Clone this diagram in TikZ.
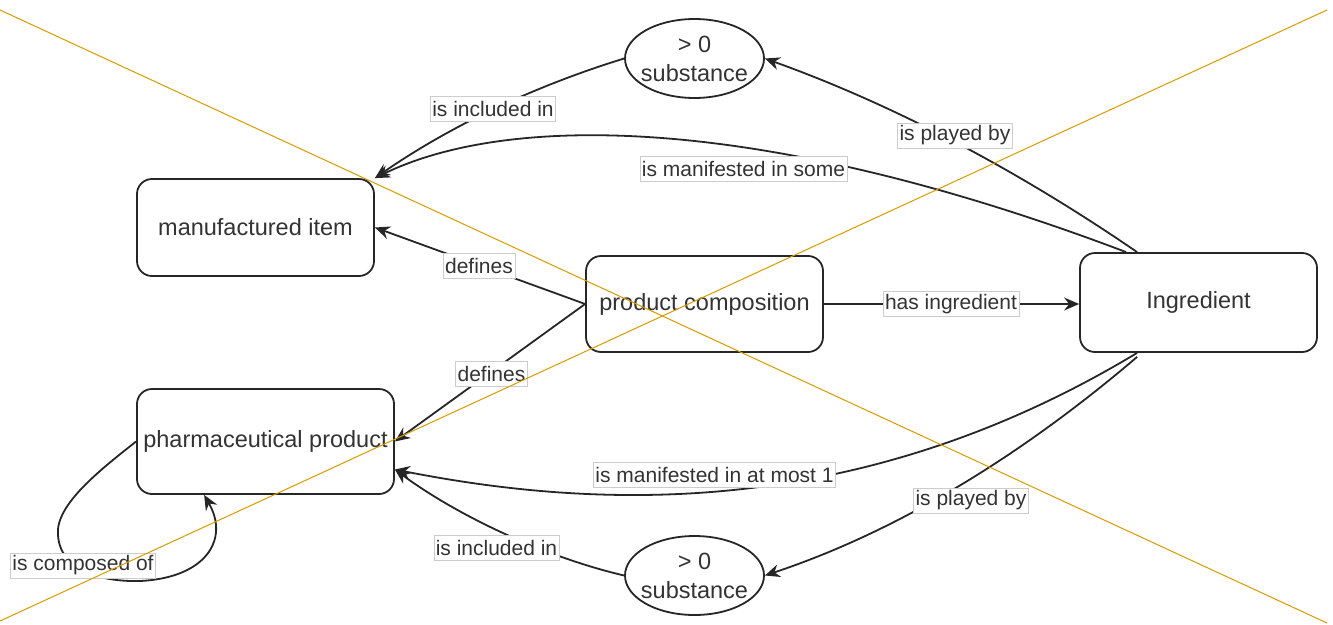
\documentclass[tikz,border=0pt]{standalone}
\usepackage{fontspec}
\setmainfont{Liberation Sans}
\usetikzlibrary{arrows.meta,shapes.geometric,calc}
\definecolor{txt}{HTML}{333333}
\definecolor{xline}{HTML}{D79B00}
\begin{document}
\begin{tikzpicture}[x=1pt,y=-1pt,
  box/.style={draw=black!85,line width=1.8pt,rounded corners=15pt,fill=white,text=txt,font=\fontsize{23.5}{28}\selectfont,inner sep=0pt},
  oval/.style={ellipse,draw=black!85,line width=1.8pt,fill=white,text=txt,font=\fontsize{23.5}{29}\selectfont,inner xsep=-5pt,inner ysep=-5pt,minimum width=139pt,minimum height=79pt,align=center},
  lbl/.style={draw=black!20,line width=0.6pt,fill=white,text=txt,font=\fontsize{21}{25}\selectfont,inner sep=2pt,minimum height=25pt},
  link/.style={draw=black!85,line width=1.8pt,-{Stealth[length=15pt,width=13pt,inset=5pt]}},
  xl/.style={draw=xline,line width=1pt}]
\useasboundingbox (0,0) rectangle (1333,624);
% nodes
\node[box,minimum width=237pt,minimum height=97pt] (mi) at (255.5,227.5) {manufactured item};
\node[box,minimum width=257pt,minimum height=105pt] (pp) at (265.5,441.5) {pharmaceutical product};
\node[box,minimum width=237pt,minimum height=96pt] (pc) at (704.5,304) {product composition};
\node[box,minimum width=237pt,minimum height=99pt] (ing) at (1198.5,302.5) {Ingredient};
\node[oval] (s1) at (694.5,58.5) {> 0\\substance};
\node[oval] (s2) at (694.5,575.5) {> 0\\substance};
% connectors
\draw[link] (s1.west) .. controls (538,85) and (453,124) .. (mi.north east);
\draw[link] ($(ing.north west)+(47,0)$) .. controls (765,115) and (510,112) .. (mi.north east);
\draw[link] ($(ing.north west)+(58,0)$) .. controls (1013,167) and (889,103) .. (s1.east);
\draw[link] (pc.west) -- (mi.east);
\draw[link] (pc.west) -- (pp.east);
\draw[link] (pc.east) -- (pc.east -| ing.west);
\draw[link] ($(ing.south west)+(58,0)$) .. controls (860,520) and (600,510) .. ($(pp.east)+(0,28)$);
\draw[link] ($(ing.south west)+(58,4)$) .. controls (1014,462) and (890,534) .. (s2.east);
\draw[link] (s2.west) .. controls (545,557) and (458,516) .. ($(pp.east)+(0,28)$);
\draw[link] (pp.west) .. controls (100,470) and (55,505) .. (58,535)
   .. controls (60,570) and (100,582) .. (140,581)
   .. controls (205,578) and (230,540) .. ($(pp.south west)+(68,0)$);
% labels
\node[lbl] (l1) at (493,108.5) {is included in};
\node[lbl] (l2) at (743.5,169) {is manifested in some};
\node[lbl] (l3) at (955,135.5) {is played by};
\node[lbl] (l4) at (479,266) {defines};
\node[lbl] (l5) at (491.5,373.5) {defines};
\node[lbl] (l6) at (951,304) {has ingredient};
\node[lbl] (l7) at (714.5,474.5) {is manifested in at most 1};
\node[lbl] (l8) at (971,500.5) {is played by};
\node[lbl] (l9) at (496.5,547.5) {is included in};
\node[lbl] (l10) at (83,565.5) {is composed of};
% crossing lines
\coordinate (xa) at (0,10);
\coordinate (xb) at (1327,623);
\coordinate (xc) at (0,621);
\coordinate (xd) at (1327,10);
\draw[xl] (xa) -- (xb);
\draw[xl] (xc) -- (xd);
\end{tikzpicture}
\end{document}
